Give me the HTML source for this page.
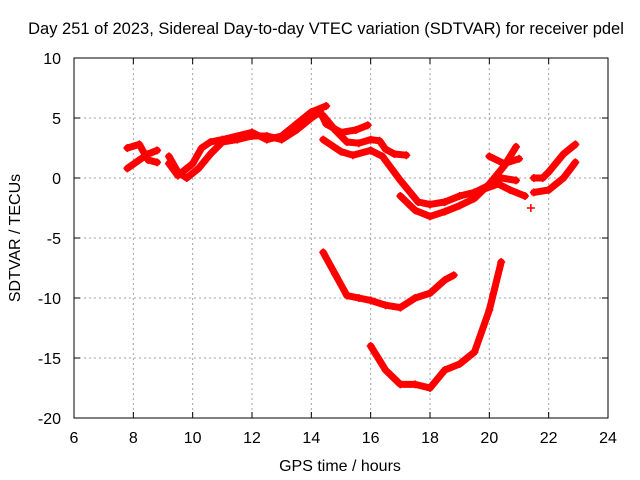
<!DOCTYPE html>
<html><head><meta charset="utf-8"><style>
body{margin:0;background:#fff}
svg{display:block;font-family:"Liberation Sans",sans-serif}
</style></head><body>
<svg id="chart" width="640" height="480">
<text x="326" y="34" font-size="16.5" text-anchor="middle">Day 251 of 2023, Sidereal Day-to-day VTEC variation (SDTVAR) for receiver pdel</text>
<text x="340" y="471" font-size="16" text-anchor="middle">GPS time / hours</text>
<text transform="translate(20,238) rotate(-90)" font-size="16" text-anchor="middle">SDTVAR / TECUs</text>
<g id="grid"></g><g id="ticks"></g><g id="series"></g>
<rect x="74" y="58" width="534" height="360" fill="none" stroke="#000"/>
</svg>
<script>
const xTicks=[6,8,10,12,14,16,18,20,22,24];
const yTicks=[-20,-15,-10,-5,0,5,10];
const s1=[[7.8,2.5],[8.2,2.8],[8.5,1.5],[8.8,1.3]];
const s2=[[7.8,0.8],[8.2,1.5],[8.5,2.0],[8.8,2.3]];
const s3=[[9.2,1.8],[9.5,0.5],[9.8,0],[10.2,0.8],[10.6,2.0],[11,3],[11.5,3.2],[12,3.5],[12.5,3.5],[13,3.2],[13.5,4],[14,5],[14.3,5.5],[14.5,4.5],[15,3.8],[15.5,4],[15.9,4.4]];
const s4=[[9.2,1.2],[9.5,0.2],[10,1.2],[10.3,2.5],[10.6,3],[11,3.2],[12,3.8],[12.5,3.2],[13,3.5],[13.5,4.5],[14,5.5],[14.5,6]];
const s5=[[14.4,5.2],[14.8,4],[15.2,3],[15.6,2.9],[16,3.2],[16.3,3.1],[16.5,2.4],[16.8,2],[17.2,1.9]];
const s6=[[14.4,3.2],[15,2.2],[15.4,1.9],[16,2.3],[16.4,1.8],[17,-0.2],[17.6,-2],[18,-2.2],[18.5,-2.0],[19,-1.5],[19.5,-1.2],[20,-0.6],[20.4,0],[20.9,-0.2]];
const s7=[[17,-1.5],[17.5,-2.7],[18,-3.2],[18.5,-2.8],[19,-2.3],[19.5,-1.7],[20,-0.5],[20.5,1],[20.9,2.6]];
const s8=[[20,1.8],[20.5,1.2],[21,1.6]];
const s9=[[19.5,-1.2],[20.3,-0.5],[20.7,-1],[21.2,-1.5]];
const s10=[[21.5,0],[21.8,0],[22,0.5],[22.5,2],[22.9,2.8]];
const s11=[[21.5,-1.2],[22,-1],[22.5,0],[22.9,1.3]];
const s12=[[21.4,-2.5]];
const s13=[[14.4,-6.2],[14.8,-8],[15.2,-9.8],[15.6,-10],[16,-10.2],[16.5,-10.6],[17,-10.8],[17.5,-10],[18,-9.6],[18.5,-8.5],[18.8,-8.1]];
const s14=[[16,-14],[16.5,-16],[17,-17.2],[17.5,-17.2],[18,-17.5],[18.5,-16],[19,-15.5],[19.5,-14.5],[20,-11],[20.4,-7]];
const allSeries=[s1,s2,s3,s4,s5,s6,s7,s8,s9,s10,s11,s12,s13,s14];
const X=h=>74+(h-6)*534/18;
const Y=v=>178-v*12;
const NS="http://www.w3.org/2000/svg";
function mk(tag,attrs,parent){const e=document.createElementNS(NS,tag);for(const k in attrs)e.setAttribute(k,attrs[k]);parent.appendChild(e);return e;}
const grid=document.getElementById('grid'),ticks=document.getElementById('ticks'),ser=document.getElementById('series');
xTicks.forEach(t=>{
 if(t>6&&t<24){const g=mk('line',{x1:X(t),x2:X(t),y1:58,y2:418,stroke:'#a0a0a0','stroke-dasharray':'2,3'},grid);
 
 }
 mk('line',{x1:X(t),x2:X(t),y1:418,y2:412,stroke:'#000'},ticks);
 mk('line',{x1:X(t),x2:X(t),y1:58,y2:64,stroke:'#000'},ticks);
 const l=mk('text',{x:X(t),y:443,'font-size':16,'text-anchor':'middle'},ticks);l.textContent=t;
 
 
});
yTicks.forEach(t=>{
 if(t>-20&&t<10){const g=mk('line',{x1:74,x2:608,y1:Y(t),y2:Y(t),stroke:'#a0a0a0','stroke-dasharray':'2,3'},grid);
 
 }
 mk('line',{x1:74,x2:80,y1:Y(t),y2:Y(t),stroke:'#000'},ticks);
 mk('line',{x1:608,x2:602,y1:Y(t),y2:Y(t),stroke:'#000'},ticks);
 const l=mk('text',{x:61,y:Y(t)+6,'font-size':16,'text-anchor':'end'},ticks);l.textContent=t;
 
 
});
allSeries.forEach(s=>{
 const p=mk('polyline',{points:s.map(d=>X(d[0])+','+Y(d[1])).join(' '),fill:'none',stroke:'#ff0000','stroke-width':7,'stroke-linejoin':'round','stroke-linecap':'round'},ser);
 
 
 s.forEach(d=>{
  const m=mk('path',{d:`M${X(d[0])-4},${Y(d[1])}h8M${X(d[0])},${Y(d[1])-4}v8`,stroke:'#ff0000','stroke-width':1.5},ser);
  
  
 });
});
</script>
</body></html>
